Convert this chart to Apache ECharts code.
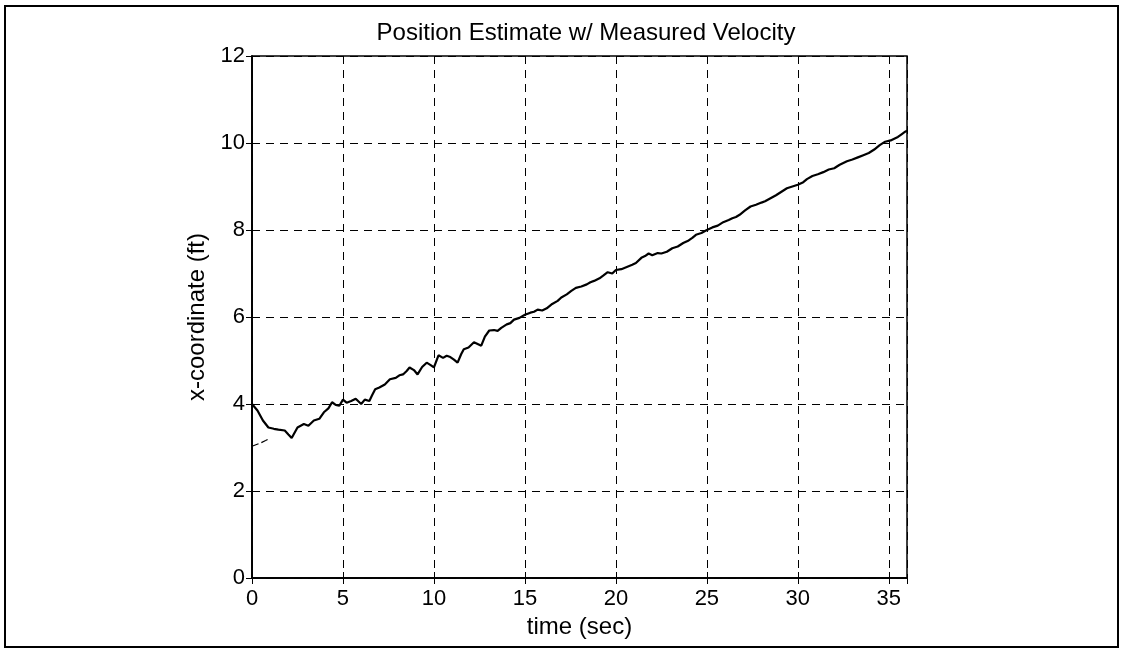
<!DOCTYPE html>
<html>
<head>
<meta charset="utf-8">
<script src="https://cdn.jsdelivr.net/npm/echarts@6/dist/echarts.min.js"></script>
<style>
html,body{margin:0;padding:0;background:#fff;}
#chart{width:1124px;height:653px;}
</style>
</head>
<body>
<div id="chart"></div>
<script>
var titleText = 'Position Estimate w/ Measured Velocity';
var xName = 'time (sec)';
var yName = 'x-coordinate (ft)';
var xTicks = [0, 5, 10, 15, 20, 25, 30, 35];
var yTicks = [0, 2, 4, 6, 8, 10, 12];

// measured position (solid line)
var measTime = [0,0.3,0.6,0.9,1.2,1.45,1.8,2.0,2.18,2.5,2.85,3.1,3.4,3.7,3.95,4.2,4.4,4.6,4.8,5.0,5.2,5.45,5.7,6.0,6.2,6.45,6.6,6.77,7.0,7.3,7.58,7.9,8.1,8.3,8.5,8.66,8.9,9.1,9.35,9.6,9.8,10.0,10.25,10.5,10.7,10.9,11.1,11.3,11.5,11.64,11.9,12.2,12.4,12.6,12.8,13.04,13.3,13.5,13.7,14.0,14.2,14.4,14.7,15.0,15.3,15.5,15.7,15.95,16.2,16.5,16.8,17.0,17.3,17.55,17.8,18.1,18.4,18.6,18.8,19.1,19.3,19.55,19.8,20.0,20.3,20.6,20.9,21.1,21.4,21.6,21.8,22.0,22.3,22.5,22.8,23.1,23.4,23.7,24.0,24.2,24.4,24.7,25.0,25.3,25.6,25.9,26.2,26.4,26.6,26.8,27.1,27.4,27.7,28.0,28.2,28.5,28.8,29.1,29.4,29.7,30.0,30.3,30.5,30.8,31.1,31.4,31.7,32.0,32.3,32.7,33.0,33.3,33.6,33.9,34.2,34.5,34.8,35.1,35.3,35.5,35.7,35.9,36.0];
var measPos = [4.0,3.85,3.62,3.46,3.43,3.41,3.39,3.3,3.22,3.46,3.54,3.5,3.62,3.66,3.81,3.9,4.04,3.98,3.96,4.1,4.03,4.07,4.12,4.0,4.1,4.07,4.2,4.34,4.38,4.45,4.57,4.6,4.66,4.68,4.76,4.84,4.78,4.68,4.85,4.95,4.9,4.84,5.12,5.06,5.11,5.08,5.02,4.95,5.15,5.26,5.3,5.42,5.38,5.34,5.55,5.69,5.7,5.68,5.75,5.83,5.86,5.94,5.98,6.05,6.1,6.12,6.17,6.15,6.2,6.3,6.37,6.45,6.52,6.6,6.67,6.7,6.75,6.8,6.83,6.89,6.95,7.03,7.0,7.08,7.1,7.15,7.2,7.24,7.36,7.4,7.46,7.42,7.47,7.46,7.5,7.58,7.62,7.7,7.76,7.82,7.89,7.93,8.0,8.06,8.1,8.18,8.23,8.27,8.3,8.35,8.45,8.54,8.58,8.63,8.66,8.73,8.8,8.88,8.96,9.0,9.04,9.1,9.17,9.24,9.28,9.33,9.39,9.42,9.5,9.58,9.62,9.67,9.72,9.77,9.85,9.95,10.03,10.06,10.1,10.14,10.2,10.26,10.28];

// estimated position (dashed line)
var estTime = [0,0.25,0.5,0.75,0.97];
var estPos = [3.03,3.07,3.11,3.16,3.21];

function pairs(xs, ys){ var o=[]; for(var i=0;i<xs.length;i++) o.push([xs[i], ys[i]]); return o; }

var font = '"Liberation Sans", Arial, sans-serif';
var chart = echarts.init(document.getElementById('chart'), null, {renderer:'canvas'});
var gridLine = {show:true, lineStyle:{color:'#000', width:1, type:[8,6]}};
chart.setOption({
  animation:false,
  backgroundColor:'#fff',
  title:{text:titleText, left:581, top:16, textAlign:'center',
    textStyle:{fontFamily:font, fontSize:24, fontWeight:'normal', color:'#000'}},
  graphic:[{type:'rect', shape:{x:5, y:6, width:1113, height:641},
    style:{fill:'none', stroke:'#000', lineWidth:2}}],
  grid:{left:252, right:217, top:56, bottom:75, show:true, borderColor:'#000', borderWidth:1.5, backgroundColor:'transparent'},
  xAxis:[{type:'value', min:0, max:36, interval:5, position:'bottom',
    name:xName, nameLocation:'middle', nameGap:34,
    nameTextStyle:{fontFamily:font, fontSize:24, color:'#000'},
    axisLine:{show:true, lineStyle:{color:'#000', width:1.5}},
    axisTick:{show:true, inside:true, length:6, lineStyle:{color:'#000'}},
    axisLabel:{fontFamily:font, fontSize:22, color:'#000', margin:10, showMaxLabel:false,
      formatter:function(v){return xTicks.indexOf(v)>=0 ? String(v) : '';}},
    splitLine:gridLine},
   {type:'value', min:0, max:36, interval:5, position:'top',
    axisLine:{show:true, lineStyle:{color:'#000', width:1.5}},
    axisTick:{show:true, inside:true, length:6, lineStyle:{color:'#000'}},
    axisLabel:{show:false}, splitLine:{show:false}}],
  yAxis:[{type:'value', min:0, max:12, interval:2, position:'left',
    name:yName, nameLocation:'middle', nameGap:36, nameRotate:90,
    nameTextStyle:{fontFamily:font, fontSize:24, color:'#000'},
    axisLine:{show:true, lineStyle:{color:'#000', width:1.5}},
    axisTick:{show:true, inside:true, length:6, lineStyle:{color:'#000'}},
    axisLabel:{fontFamily:font, fontSize:22, color:'#000', margin:7,
      formatter:function(v){return yTicks.indexOf(v)>=0 ? String(v) : '';}},
    splitLine:gridLine},
   {type:'value', min:0, max:12, interval:2, position:'right',
    axisLine:{show:true, lineStyle:{color:'#000', width:1.5}},
    axisTick:{show:true, inside:true, length:6, lineStyle:{color:'#000'}},
    axisLabel:{show:false}, splitLine:{show:false}}],
  series:[
    {type:'line', name:'measured', data:pairs(measTime, measPos), showSymbol:false, symbol:'none',
     lineStyle:{color:'#000', width:2.2}, z:5},
    {type:'line', name:'estimate', data:pairs(estTime, estPos), showSymbol:false, symbol:'none',
     lineStyle:{color:'#000', width:1.2, type:[7,3]}, z:4}
  ]
});
</script>
</body>
</html>
